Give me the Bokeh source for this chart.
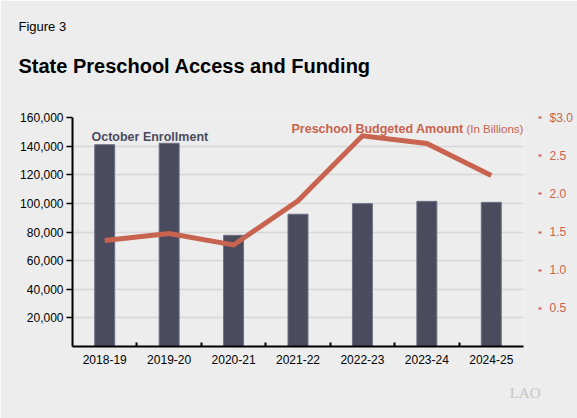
from bokeh.plotting import figure
from bokeh.models import (Range1d, LinearAxis, FixedTicker, Title,
                          Label, PrintfTickFormatter, NumeralTickFormatter, ColumnDataSource, Grid)
from bokeh.embed import file_html
from bokeh.resources import INLINE

years = ["2018-19", "2019-20", "2020-21", "2021-22", "2022-23", "2023-24", "2024-25"]
enrollment = [141000, 142000, 77700, 92400, 99800, 101400, 100700]
budget_billions = [1.39, 1.48, 1.33, 1.91, 2.76, 2.66, 2.24]
left_ticks = [20000, 40000, 60000, 80000, 100000, 120000, 140000, 160000]
right_ticks = [0.5, 1.0, 1.5, 2.0, 2.5, 3.0]

BG = "#ecedec"
BAR = "#4b4b5e"
RED = "#c8634f"
FONT = "Liberation Sans"

idx = list(range(len(years)))
src = ColumnDataSource(dict(i=idx, year=years, enrollment=enrollment, budget=budget_billions))

p = figure(width=577, height=418, x_range=Range1d(-0.5, len(years) - 0.5),
           y_range=Range1d(0, 160000), output_backend="svg", toolbar_location=None,
           x_axis_location=None, y_axis_location=None,
           title="Figure 3",
           min_border_left=72, min_border_right=54, min_border_top=117, min_border_bottom=72,
           background_fill_color=BG, border_fill_color=BG, outline_line_color=None)
for g in p.grid:
    g.visible = False

# "Figure 3" (outermost title)
p.title.text_font = FONT
p.title.text_font_size = "13px"
p.title.text_font_style = "normal"
p.title.text_color = "black"
p.title.align = "left"
p.title.offset = -54
p.title.standoff = 0

# main title (nearest the plot)
p.add_layout(Title(text="State Preschool Access and Funding\n", text_font=FONT,
                   text_font_size="20px", text_font_style="bold", text_color="black",
                   align="left", offset=-54, standoff=38), "above")

p.extra_y_ranges = {"money": Range1d(0, 3.0)}

p.add_layout(Grid(dimension=1, ticker=FixedTicker(ticks=left_ticks),
                  grid_line_color="#d6d7d6", grid_line_width=1.5))

p.vbar(x="i", top="enrollment", width=0.31, source=src,
       fill_color=BAR, line_color="#6f6f84", line_width=1)
p.line(x="i", y="budget", y_range_name="money", source=src,
       line_color=RED, line_width=5, line_join="miter")

left = LinearAxis(ticker=FixedTicker(ticks=left_ticks), formatter=NumeralTickFormatter(format="0,0"),
                  axis_line_width=2, axis_line_color="black",
                  major_tick_out=6, major_tick_in=0, major_tick_line_width=1.5,
                  minor_tick_line_color=None, major_label_standoff=3,
                  major_label_text_font=FONT, major_label_text_font_size="12px",
                  major_label_text_color="black")
p.add_layout(left, "left")

bottom = LinearAxis(ticker=FixedTicker(ticks=idx, minor_ticks=[i + 0.5 for i in idx[:-1]]),
                    major_label_overrides={i: y for i, y in zip(idx, years)},
                    axis_line_width=2, axis_line_color="black",
                    major_tick_line_color=None, major_tick_out=0, major_tick_in=0,
                    minor_tick_line_color="black", minor_tick_line_width=2,
                    minor_tick_in=4, minor_tick_out=0,
                    major_label_standoff=8,
                    major_label_text_font=FONT, major_label_text_font_size="12px",
                    major_label_text_color="black")
p.add_layout(bottom, "below")

right = LinearAxis(y_range_name="money", ticker=FixedTicker(ticks=right_ticks),
                   formatter=PrintfTickFormatter(format="%.1f"),
                   major_label_overrides={3.0: "$3.0"},
                   axis_line_color=None, major_tick_line_color=RED, major_tick_line_width=2,
                   major_tick_in=-15, major_tick_out=18, minor_tick_line_color=None,
                   major_label_standoff=8, major_label_text_font=FONT,
                   major_label_text_font_size="12px", major_label_text_color=RED)
p.add_layout(right, "right")

p.add_layout(Title(text="LAO", text_font="Liberation Serif", text_font_size="15px",
                   text_font_style="normal", text_color="#c6c6c6", align="right",
                   offset=-17, standoff=32), "below")

def lab(x, y, text, size, color, style="normal", font=FONT):
    p.add_layout(Label(x=x, y=y, x_units="screen", y_units="screen", text=text,
                       text_font=font, text_font_size=size, text_color=color,
                       text_font_style=style, text_baseline="alphabetic", text_align="left"))

lab(19, 210, "October Enrollment", "12.5px", BAR, "bold")
lab(219, 218, "Preschool Budgeted Amount", "12.5px", RED, "bold")
lab(394, 218, "(In Billions)", "11.5px", RED)

open("out.html", "w").write(file_html(p, INLINE))
